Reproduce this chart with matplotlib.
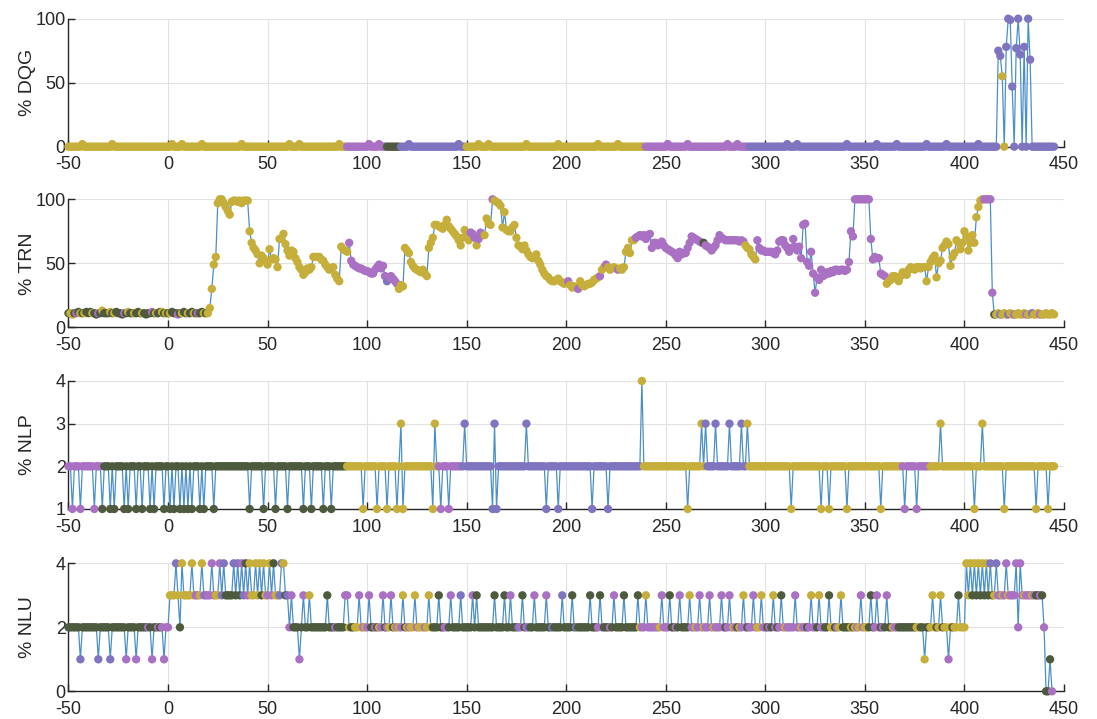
import numpy as np
import matplotlib
matplotlib.use("Agg")
import matplotlib.pyplot as plt

plt.rcParams['font.family'] = ['Liberation Sans', 'DejaVu Sans']
plt.rcParams['axes.unicode_minus'] = False

X_START = -50

# colour codes per sample (x = -50 .. 449, one char per unit, '.' = no sample)
# y olive, p orchid, b slate blue, g dark green
dqg_colors = [
    "yyyyyyyyyy yyyyyyyyyy yyyyyyyyyy yyyyyyyyyy yyyyyyyyyy",
    "yyyyyyyyyy yyyyyyyyyy yyyyyyyyyy yyyyyyyyyy yyyyyyyyyy",
    "yyyyyyyyyy yyyyyyyyyy yyyyyyyyyy yyyyyyyyyy pppppppppp",
    "pppppppppp gggggggbbb bbbbbbbbbb bbbbbbbbbb bbbbbbbbbb",
    "yyyyyyyyyy yyyyyyyyyy yyyyyyyyyy yyyyyyyyyy yyyyyyyyyy",
    "yyyyyyyyyy yyyyyyyyyy yyyyyyyyyy yyyyyyyyyy pppppppppp",
    "pppppppppp pppppppppp pppppppppp pppppppppp ppbbbbbbbb",
    "bbbbbbbbbb bbbbbbbbbb bbbbbbbbbb bbbbbbbbbb bbbbbbbbbb",
    "bbbbbbbbbb bbbbbbbbbb bbbbbbbbbb bbbbbbbbbb bbbbbbbbbb",
    "bbbbbbbbbb bbbbbbbbby ybbbbbbbbb bbbbbbbbbb bbbbbb....",
]
dqg_nonzero_x = [-43, -28, 2, 7, 17, 37, 61, 66, 86, 101, 106, 121, 146, 156, 161,
                 180, 196, 216, 226, 251, 261, 281, 286, 311, 316, 341, 356, 366,
                 381, 391, 407,
                 417, 418, 419, 421, 422, 423, 424, 426, 427, 428, 430, 432, 433]
dqg_nonzero_v = [2, 2, 2, 2, 2, 2, 2, 2, 2, 2, 2, 2, 2, 2, 2,
                 2, 2, 2, 2, 2, 2, 2, 2, 2, 2, 2, 2, 2,
                 2, 2, 2,
                 75, 71, 55, 78, 100, 99, 47, 77, 100, 72, 78, 100, 68]

trn_colors = [
    "gyygpgygyg ggyggpgygg gygyggggpg yggygggygg ggpgyggygy",
    "gygggpgygg yggygpggyg yyyyyyyyyy yyyyyyyyyy yyyyyyyyyy",
    "yyyyyyyyyy yyyyyyyyyy yyyyyyyyyy yyyyyyyyyy yppppppppp",
    "pppppppppp bpppppyyyy yyyyyyyyyy yyyyyyyyyy yyyyyyyyyy",
    "yypppypppy yyypyyyyyy yyyyyyyyyy yyyyyyyyyy yyyyyyyyyy",
    "ypyyyypyyy yyyyyyypyy pyyyyypyyy yyyyyppppp pppppppppp",
    "pppppppppp pppppppppg pppppppppp pppppppppp yyyyyypppp",
    "pppppppppp pppppppppp pppppppppp pppppppppp pppppppppp",
    "pppppppppp pyyyyyyyyy yyyyyyyyyy yyyyyyyyyy yyyyyyyyyy",
    "yyyyyyyyyy pppppgyyby yybyypyyyy ypyybyyypy yyyyyy....",
]
trn_values = [
    11, 11, 10, 11, 11, 12, 11, 11, 11, 12,
    11, 12, 11, 11, 10, 11, 11, 13, 11, 11,
    11, 12, 11, 11, 12, 11, 11, 10, 11, 11,
    12, 11, 11, 11, 11, 12, 11, 11, 11, 10,
    11, 11, 12, 11, 11, 11, 12, 12, 11, 11,
    11, 11, 12, 11, 11, 10, 11, 11, 12, 11,
    11, 11, 12, 11, 11, 11, 11, 12, 11, 11,
    11, 15, 30, 49, 55, 97, 100, 100, 97, 94,
    91, 88, 98, 99, 99, 98, 99, 97, 99, 99,
    99, 75, 66, 62, 60, 57, 50, 56, 54, 52,
    49, 61, 53, 54, 53, 47, 69, 69, 73, 65,
    60, 56, 60, 59, 54, 51, 47, 45, 41, 43,
    46, 45, 47, 55, 55, 55, 55, 53, 52, 49,
    47, 45, 46, 47, 41, 38, 36, 63, 61, 60,
    59, 66, 52, 49, 48, 47, 46, 46, 45, 44,
    44, 43, 42, 42, 45, 47, 49, 46, 48, 40,
    36, 39, 40, 38, 36, 34, 30, 33, 32, 62,
    60, 58, 51, 48, 46, 45, 44, 43, 45, 42,
    40, 62, 66, 70, 80, 80, 79, 78, 77, 80,
    84, 79, 77, 75, 73, 71, 68, 64, 70, 76,
    72, 68, 74, 73, 70, 64, 69, 74, 72, 72,
    85, 81, 80, 100, 99, 98, 97, 95, 78, 90,
    76, 75, 75, 78, 80, 70, 64, 63, 61, 64,
    60, 57, 55, 54, 55, 57, 52, 49, 45, 42,
    40, 39, 37, 36, 36, 37, 38, 36, 35, 34,
    35, 36, 33, 31, 32, 31, 30, 36, 33, 32,
    33, 34, 34, 35, 37, 38, 39, 40, 45, 47,
    49, 47, 45, 46, 47, 46, 45, 46, 45, 47,
    59, 62, 58, 68, 68, 70, 71, 72, 71, 72,
    69, 72, 73, 62, 66, 66, 64, 65, 67, 64,
    62, 61, 60, 59, 58, 56, 54, 59, 57, 58,
    58, 62, 66, 71, 70, 69, 68, 67, 66, 66,
    64, 63, 62, 60, 62, 64, 68, 72, 70, 69,
    68, 68, 68, 68, 68, 68, 68, 67, 68, 67,
    64, 62, 61, 57, 55, 53, 68, 62, 60, 60,
    59, 59, 59, 59, 58, 57, 60, 67, 68, 68,
    64, 62, 59, 62, 69, 63, 60, 63, 54, 80,
    81, 51, 48, 59, 42, 27, 39, 37, 45, 40,
    41, 43, 42, 44, 43, 45, 45, 44, 45, 45,
    44, 45, 51, 75, 71, 100, 100, 100, 100, 100,
    100, 100, 100, 69, 53, 55, 54, 54, 42, 41,
    40, 34, 36, 37, 40, 40, 38, 36, 40, 43,
    42, 41, 45, 47, 46, 45, 47, 47, 46, 47,
    47, 36, 47, 51, 54, 56, 39, 50, 52, 62,
    64, 67, 65, 48, 55, 58, 68, 66, 61, 66,
    75, 71, 60, 66, 72, 66, 86, 94, 99, 100,
    100, 100, 100, 100, 27, 10, 10, 11, 10, 10,
    11, 10, 10, 11, 10, 10, 10, 11, 10, 10,
    11, 10, 10, 10, 11, 10, 10, 11, 10, 10,
    10, 11, 10, 10, 11, 10,
]

nlp_colors = [
    "pppppppppp pppppppggg gggggggggg gggggggggg gggggggggg",
    "gggggggggg gggggggggg gggggggggg gggggggggg gggggggggg",
    "gggggggggg gggggggggg gggggggggg gggggggggg yyyyyyyyyy",
    "yyyyyyyyyy yyyyyyyyyy yyyyyyyyyy yyyyyypppp ppppppppbb",
    "bbbbbbbbbb bbbbbbbbbb bbbbbbbbbb bbbbbbbbbb bbbbbbbbbb",
    "bbbbbbbbbb bbbbbbbbbb bbbbbbbbbb bbbbbbbbyy yyyyyyyyyy",
    "yyyyyyyyyy yyyyyyyyyy bbbbbbbbbb bbbbbbbbbb byyyyyyyyy",
    "yyyyyyyyyy yyyyyyyyyy yyyyyyyyyy yyyyyyyyyy yyyyyyyyyy",
    "yyyyyyyyyy yyyyyyyyyp pppppppppp pppyyyyyyy yyyyyyyyyy",
    "yyyyyyyyyy yyyyyyyyyy yyyyyyyyyy yyyyyyyyyy yyyyyy....",
]
nlp_base = 2
nlp_x_at_1 = [-48, -44, -37, -33, -29, -27, -22, -20, -16, -13, -9, -7, -2, 1, 3, 6,
              8, 10, 12, 16, 18, 23, 41, 48, 54, 60, 68, 72, 78, 82, 98, 105, 110,
              115, 118, 133, 137, 141, 163, 165, 190, 196, 213, 221, 261, 313, 328,
              332, 341, 358, 370, 376, 405, 420, 436, 442]
nlp_x_at_3 = [117, 134, 149, 164, 180, 268, 270, 275, 282, 288, 291, 388, 409]
nlp_x_at_4 = [238]

nlu_colors = [
    "ggggggbggg gggggbgggg gbgggggggp ggggpggggg pgpggpgppp",
    "pyyybygyyy yyyyppyypb ppppyypbbg gggbgbgpbg pyyyyyygyy",
    "pypgyybbyg bppgggpgpg gygggggggg ggggpggggp pyggyypypy",
    "ppggpgyppg pypgypypyg ypyyypyyyp yyyggggggp pgpggggbgg",
    "gggpgggggg gggggggggg ggpgggbpgg pbggpggggg pggbggggbg",
    "gggggbgggg ggggggpgpg ggpgpggggg gggggggypp yppppppypp",
    "ppgggpgpgg ggyppypppy ppppyppppp gpppypgypy pgppppyyyp",
    "pgpgypgpgp ypppppppyp pgpyppgypp gggyygpyyg gggygypypp",
    "yygggpppgp gpggyppggg ggggggyygg yggyyygyyg yypygyygyy",
    "yyyygygygy gygbgybppy ppyppppppp ypppypggpg pgggp.....",
]
nlu_values = [
    "2222221222 2222212222 2122222221 2222122222 2212222212",
    "2333432433 3343333433 3343334343 3334343434 3433434343",
    "3434333443 3232221232 2322222222 3222222223 3222223222",
    "2322222232 2232222232 2222322222 2322223222 2232222322",
    "2223232222 2222322223 2232222232 2222322222 3222222232",
    "2223222222 2232222322 2222322223 2222223222 3222222232",
    "2232222322 2232222322 2232222232 2232222223 2222322232",
    "2222322232 2222232222 2223222322 2232222232 2222222232",
    "2223223222 2322222222 2222222222 1222322232 2212222322",
    "2434343434 3434334333 3433334243 3333333333 20010.....",
]

COLORS = {'y': '#C6AE3A', 'p': '#A970C4', 'b': '#7F74C0', 'g': '#4D5A3D'}
LINE_COLOR = '#4B8FC9'
TEXT = '#262626'


def unpack(rows):
    return "".join(r.replace(" ", "") for r in rows)


def draw(ax, codes, values, ylim, yticks, ylabel):
    codes = unpack(codes)
    n = len(values)
    x = X_START + np.arange(n)
    cols = [COLORS[c] for c in codes[:n]]
    ax.plot(x, values, color=LINE_COLOR, lw=0.9, zorder=2)
    ax.scatter(x, values, c=cols, s=36, lw=0, zorder=3, clip_on=False)
    ax.set_xlim(-50, 450)
    ax.set_ylim(*ylim)
    ax.set_xticks(range(-50, 451, 50))
    ax.set_yticks(yticks)
    ax.grid(True, color='#E2E2E2', lw=0.8)
    ax.set_axisbelow(True)
    for s in ['top', 'right']:
        ax.spines[s].set_visible(False)
    for s in ['left', 'bottom']:
        ax.spines[s].set_color(TEXT)
        ax.spines[s].set_linewidth(1.0)
    ax.tick_params(direction='in', length=5, width=1, colors=TEXT, labelsize=13)
    ax.tick_params(axis='x', pad=7)
    ax.tick_params(axis='y', pad=2)
    ax.set_ylabel(ylabel, fontsize=14, color=TEXT)
    ax.yaxis.set_label_coords(-0.033, 0.5)


fig = plt.figure(figsize=(10.97, 7.19), dpi=100)
left, width, height = 0.0624, 0.9075, 0.178
bottoms = [0.7960, 0.5448, 0.2921, 0.0385]
axes = [fig.add_axes([left, b, width, height]) for b in bottoms]

# DQG
dqg_codes = unpack(dqg_colors)
n_dqg = len(dqg_codes.rstrip('.'))
dqg = np.zeros(n_dqg)
dqg[np.array(dqg_nonzero_x) - X_START] = dqg_nonzero_v
draw(axes[0], dqg_colors, dqg, (0, 100), [0, 50, 100], '% DQG')

# TRN
draw(axes[1], trn_colors, np.array(trn_values), (0, 100), [0, 50, 100], '% TRN')

# NLP
n_nlp = len(unpack(nlp_colors).rstrip('.'))
nlp = np.full(n_nlp, nlp_base)
nlp[np.array(nlp_x_at_1) - X_START] = 1
nlp[np.array(nlp_x_at_3) - X_START] = 3
nlp[np.array(nlp_x_at_4) - X_START] = 4
draw(axes[2], nlp_colors, nlp, (1, 4), [1, 2, 3, 4], '% NLP')

# NLU
nlu = np.array([int(c) for c in unpack(nlu_values).rstrip('.')])
draw(axes[3], nlu_colors, nlu, (0, 4), [0, 2, 4], '% NLU')

fig.savefig('out.png', dpi=100)
